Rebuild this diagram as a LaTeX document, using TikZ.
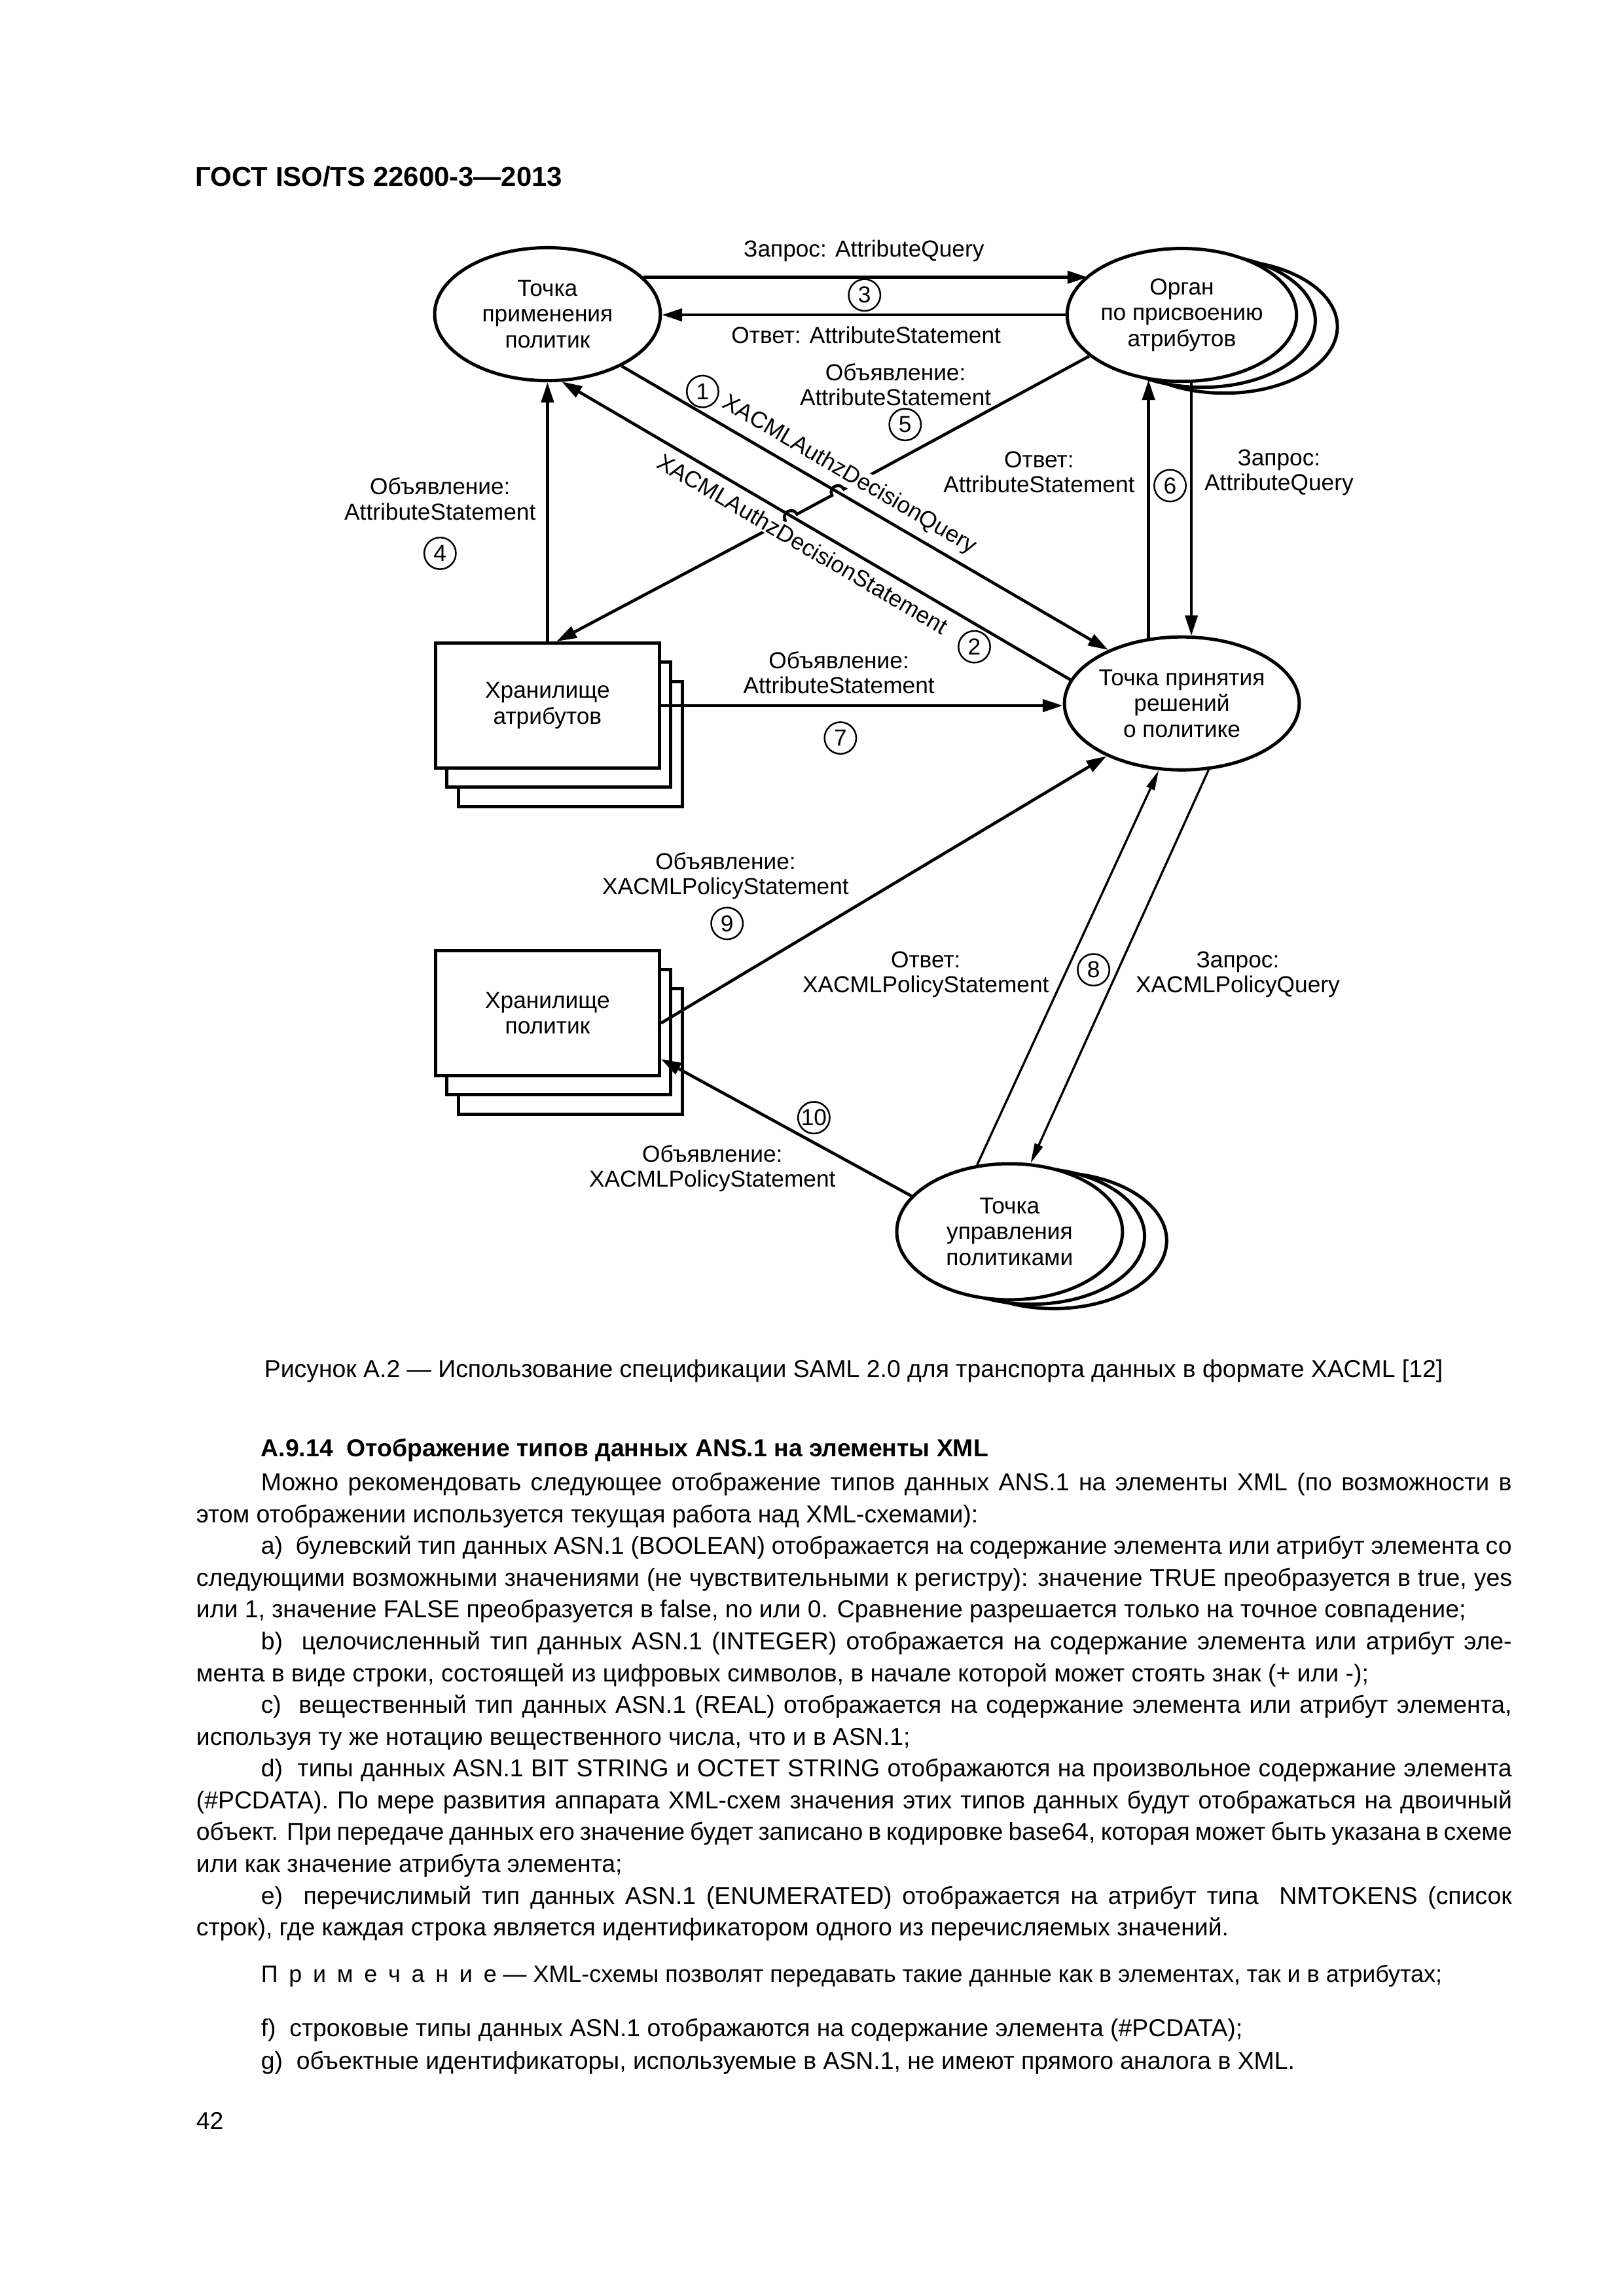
\documentclass[tikz,border=0pt]{standalone}
\usepackage{fontspec}
\setmainfont{Liberation Sans}
\usetikzlibrary{shapes.geometric,arrows.meta}
\newcommand{\dfont}{\fontsize{8.5}{9.2}\selectfont}
\newcommand{\efont}{\fontsize{8.5}{9.5}\selectfont}
\newcommand{\bfont}{\fontsize{9}{10.5}\selectfont}
\newcommand{\nfont}{\fontsize{8.65}{10}\selectfont}
\newcommand{\jl}[1]{\makebox[170.2mm][s]{#1}}
\newcommand{\ji}[1]{\makebox[161.8mm][s]{#1}}
\newcommand{\lsp}{\hspace{1.42mm}}
\begin{document}
\begin{tikzpicture}[x=0.19039mm, y=-0.19039mm,
  ell/.style={ellipse, draw, line width=1.2pt, fill=white, minimum width=29.2mm, minimum height=17.2mm, inner sep=0pt, align=center, font=\efont},
  box/.style={rectangle, draw, line width=1.2pt, fill=white, minimum width=28.94mm, minimum height=16.18mm, inner sep=0pt, align=center, font=\efont},
  arr/.style={line width=1.1pt, -{Triangle[length=2.6mm,width=1.6mm]}},
  tarr/.style={line width=0.8pt, -{Triangle[length=2.6mm,width=1.1mm]}},
  lab/.style={align=center, font=\dfont, inner sep=0.5pt},
  num/.style={circle, draw, line width=0.6pt, minimum size=4.1mm, inner sep=0pt, font=\dfont},
  txt/.style={anchor=base west, inner sep=0pt, font=\bfont}]
\fill[white] (0,0) rectangle (1103,1560.2);
\useasboundingbox (0,0) rectangle (1103,1560.2);

% header
\node[anchor=base west, inner sep=0pt, font=\fontsize{10.1}{12}\selectfont\bfseries] (hdr) at (132.5,126.5) {ГОСТ ISO/TS 22600-3—2013};

% nodes
\node[ell] (pep) at (372,213.5) {Точка\\применения\\политик};
\node[ell] (aa3) at (832,222) {};
\node[ell] (aa2) at (817,218) {};
\node[ell] (aa) at (803,214) {Орган\\по присвоению\\атрибутов};
\node[ell] (pdp) at (803,478) {Точка принятия\\решений\\о политике};
\node[ell, minimum height=17.6mm] (pmp3) at (716,843) {};
\node[ell, minimum height=17.6mm] (pmp2) at (701,840) {};
\node[ell, minimum height=17.6mm] (pmp) at (686,837) {Точка\\управления\\политиками};
\node[box] (as3) at (387.5,505.5) {};
\node[box] (as2) at (379.5,492.5) {};
\node[box] (as) at (372,479.5) {Хранилище\\атрибутов};
\node[box] (ps3) at (387.5,714.5) {};
\node[box] (ps2) at (379.5,701.5) {};
\node[box] (ps) at (372,688.5) {Хранилище\\политик};

% line 5 with hops
\draw[arr] (aa.204.7) -- (573.3,332.4) .. controls (570.5,327.1) and (562.5,331.3) .. (565.3,336.6)
  -- (541.5,349.4) .. controls (538.7,344.1) and (530.7,348.3) .. (533.5,353.6) -- (as.82);

% rotated labels
\node[lab, fill=white, rotate=-30.4] (l1) at (577,323) {XACMLAuthzDecisionQuery};
\node[lab, fill=white, rotate=-30.4] (l2) at (545.5,369.5) {XACMLAuthzDecisionStatement};

% connectors
\draw[arr] (pep.21.8) -- (pep.21.8 -| aa.157.3);
\draw[arr] (aa.west) -- (aa.west -| pep.east);
\draw[arr] (as.north) -- (pep.south);
\draw[arr] (pep.325.2) -- (pdp.144.25);
\draw[arr] (pdp.168.5) -- (pep.282);
\draw[arr] (pdp.117.06) -- (pdp.117.06 |- aa.242.94);
\draw[arr] (aa.278.9) -- (aa.278.9 |- pdp.81.1);
\draw[arr] (as.east) -- (as.east -| pdp.west);
\draw[arr] (ps.355.9) -- (pdp.215.4);
\draw[arr] (pmp.160.6) -- (ps.338.1);
\draw[tarr] (pmp.116.1) -- (pdp.251.6);
\draw[tarr] (pdp.292.9) -- (pmp.73.7);

% labels
\node[lab] (q3) at (587,170.5) {Запрос: AttributeQuery};
\node[num] (n3) at (587.4,200.5) {3};
\node[lab] (r3) at (588.5,227.8) {Ответ: AttributeStatement};
\node[lab] (d5) at (608.5,261.5) {Объявление:\\AttributeStatement};
\node[num] (n5) at (615,288.5) {5};
\node[lab] (d4) at (299,339) {Объявление:\\AttributeStatement};
\node[num] (n4) at (299,376) {4};
\node[num] (n1) at (477.4,266) {1};
\node[num] (n2) at (662,439.5) {2};
\node[lab] (r6) at (706,321) {Ответ:\\AttributeStatement};
\node[num] (n6) at (795,330) {6};
\node[lab] (q6) at (869,321) {Запрос:\\AttributeQuery};
\node[lab] (d7) at (570,457) {Объявление:\\AttributeStatement};
\node[num] (n7) at (571,501.5) {7};
\node[lab] (d9) at (493,595) {Объявление:\\XACMLPolicyStatement};
\node[num] (n9) at (494,627.5) {9};
\node[lab] (r8) at (629,662) {Ответ:\\XACMLPolicyStatement};
\node[num] (n8) at (743,659) {8};
\node[lab] (q8) at (841,662) {Запрос:\\XACMLPolicyQuery};
\node[lab] (d10) at (484,794) {Объявление:\\XACMLPolicyStatement};
\node[num] (n10) at (553,759.5) {10};

% caption
\node[anchor=base, inner sep=0pt, font=\bfont] (cap) at (580,936) {Рисунок А.2 — Использование спецификации SAML 2.0 для транспорта данных в формате XACML [12]};

% heading
\node[txt, font=\bfont\bfseries] (h1) at (177,990) {А.9.14\ \ Отображение типов данных ANS.1 на элементы XML};

% body
\node[txt] (t0) at (177,1013) {\ji{Можно рекомендовать следующее отображение типов данных ANS.1 на элементы XML (по возможности в}};
\node[txt] (t1) at (133,1034.6) {этом отображении используется текущая работа над XML-схемами):};
\node[txt] (t2) at (177,1056.2) {\ji{a)\ \ булевский тип данных ASN.1 (BOOLEAN) отображается на содержание элемента или атрибут элемента со}};
\node[txt] (t3) at (133,1077.8) {\jl{следующими возможными значениями (не чувствительными к регистру): значение TRUE преобразуется в true, yes}};
\node[txt] (t4) at (133,1099.4) {или 1, значение FALSE преобразуется в false, no или 0. Сравнение разрешается только на точное совпадение;};
\node[txt] (t5) at (177,1121) {\ji{b)\ \ целочисленный тип данных ASN.1 (INTEGER) отображается на содержание элемента или атрибут эле-}};
\node[txt] (t6) at (133,1142.6) {мента в виде строки, состоящей из цифровых символов, в начале которой может стоять знак (+ или -);};
\node[txt] (t7) at (177,1164.2) {\ji{c)\ \ вещественный тип данных ASN.1 (REAL) отображается на содержание элемента или атрибут элемента,}};
\node[txt] (t8) at (133,1185.8) {используя ту же нотацию вещественного числа, что и в ASN.1;};
\node[txt] (t9) at (177,1207.4) {\ji{d)\ \ типы данных ASN.1 BIT STRING и OCTET STRING отображаются на произвольное содержание элемента}};
\node[txt] (t10) at (133,1229) {\jl{(\#PCDATA). По мере развития аппарата XML-схем значения этих типов данных будут отображаться на двоичный}};
\node[txt] (t11) at (133,1250.6) {\jl{объект. При передаче данных его значение будет записано в кодировке base64, которая может быть указана в схеме}};
\node[txt] (t12) at (133,1272.2) {или как значение атрибута элемента;};
\node[txt] (t13) at (177,1293.8) {\ji{e)\ \ перечислимый тип данных ASN.1 (ENUMERATED) отображается на атрибут типа\ \ NMTOKENS (список}};
\node[txt] (t14) at (133,1315.4) {строк), где каждая строка является идентификатором одного из перечисляемых значений.};
\node[txt, font=\nfont] (t15) at (177,1347) {П\lsp р\lsp и\lsp м\lsp е\lsp ч\lsp а\lsp н\lsp и\lsp е — XML-схемы позволят передавать такие данные как в элементах, так и в атрибутах;};
\node[txt] (t16) at (177,1384) {f)\ \ строковые типы данных ASN.1 отображаются на содержание элемента (\#PCDATA);};
\node[txt] (t17) at (177,1406) {g)\ \ объектные идентификаторы, используемые в ASN.1, не имеют прямого аналога в XML.};
\node[txt] (pg) at (133,1447) {42};
\end{tikzpicture}
\end{document}
